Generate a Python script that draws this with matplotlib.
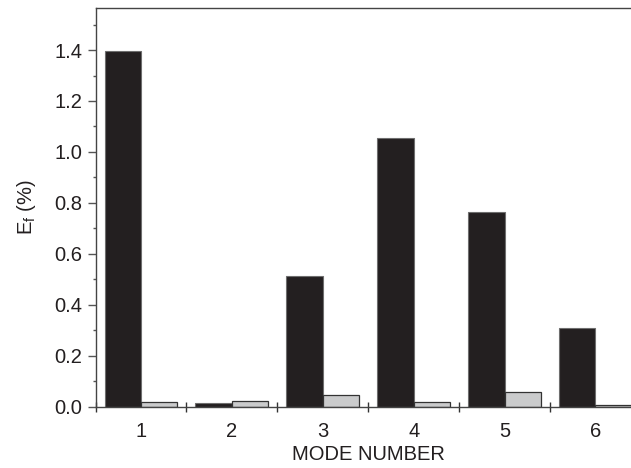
import matplotlib.pyplot as plt
import numpy as np

plt.rcParams['font.family'] = ['Liberation Sans', 'DejaVu Sans']

modes = [1, 2, 3, 4, 5, 6]
ef_dark = [1.395, 0.013, 0.514, 1.053, 0.764, 0.307]
ef_light = [0.019, 0.024, 0.044, 0.020, 0.058, 0.008]

fig = plt.figure(figsize=(6.31, 4.68), dpi=100)
# axes run past the right edge so the last group is clipped
ax = fig.add_axes([95.5 / 631, 61.3 / 468, 545.4 / 631, 398.7 / 468])

x = np.array(modes)
w = 0.4
ax.bar(x - w / 2, ef_dark, width=w, color='#231f20', edgecolor='#6e6e6e', linewidth=0.8)
ax.bar(x + w / 2, ef_light, width=w, color='#cacbcc', edgecolor='#333333', linewidth=0.9)

ax.set_xlim(0.5, 6.5)
ax.set_ylim(0, 1.565)

ax.set_xticks(modes)
ax.set_xticks(np.arange(0.5, 6.6, 1.0), minor=True)
ax.set_yticks(np.arange(0, 1.41, 0.2))
ax.set_yticks(np.arange(0.1, 1.51, 0.2), minor=True)
ax.set_yticklabels(['%.1f' % v for v in np.arange(0, 1.41, 0.2)])

fs = 14.5
ax.tick_params(axis='x', which='major', length=0, pad=11, labelsize=fs, colors='#231f20')
ax.tick_params(axis='x', which='minor', direction='inout', length=6.5, width=1.0, color='#333333')
ax.tick_params(axis='y', which='major', direction='out', length=5.5, width=1.0, pad=4,
               labelsize=fs, color='#555555', labelcolor='#231f20')
ax.tick_params(axis='y', which='minor', direction='out', length=2.5, width=1.0, color='#555555')

for s in ['left', 'bottom', 'top']:
    ax.spines[s].set_color('#444444')
    ax.spines[s].set_linewidth(1.0)
ax.spines['right'].set_visible(False)

ax.set_xlabel('MODE NUMBER', fontsize=fs, color='#231f20', labelpad=3)
ax.set_ylabel('E$_\\mathregular{f}$ (%)', fontsize=fs, color='#231f20', labelpad=12)

fig.savefig('out.png', dpi=100)
